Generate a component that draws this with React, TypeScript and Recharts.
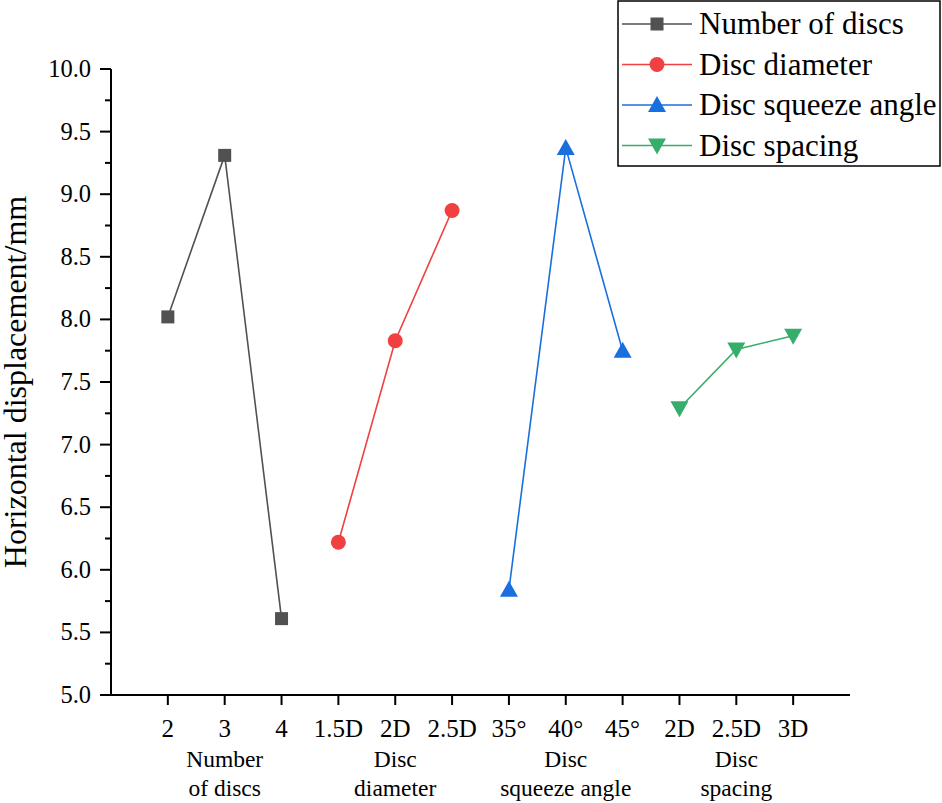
import { Legend, Line, LineChart, XAxis, YAxis } from "recharts";

const categories = ["2", "3", "4", "1.5D", "2D", "2.5D", "35°", "40°", "45°", "2D", "2.5D", "3D"];
const groupTitles = [
  ["Number", "of discs"],
  ["Disc", "diameter"],
  ["Disc", "squeeze angle"],
  ["Disc", "spacing"],
];
const seriesNames = ["Number of discs", "Disc diameter", "Disc squeeze angle", "Disc spacing"];
const seriesColors = ["#515151", "#F14040", "#1A6FDF", "#37AD6B"];

const numberOfDiscs = [8.02, 9.31, 5.61];
const discDiameter = [6.22, 7.83, 8.87];
const squeezeAngle = [5.84, 9.37, 7.75];
const discSpacing = [7.29, 7.76, 7.87];

const yTicks = [5, 5.25, 5.5, 5.75, 6, 6.25, 6.5, 6.75, 7, 7.25, 7.5, 7.75, 8, 8.25, 8.5, 8.75, 9, 9.25, 9.5, 9.75, 10];

const FONT = "Liberation Serif";
const WIDTH = 942;
const HEIGHT = 803;
const PLOT_LEFT = 111;
const PLOT_BOTTOM = 695;

type Shape = "square" | "circle" | "triangle" | "triangleDown";
const shapes: Shape[] = ["square", "circle", "triangle", "triangleDown"];

const seriesValues = [numberOfDiscs, discDiameter, squeezeAngle, discSpacing];

// each group takes three consecutive slots on the x axis (1..12)
const seriesData = seriesValues.map((values, g) =>
  values.map((v, i) => ({ x: g * 3 + i + 1, y: v }))
);

const textStyle = { fontFamily: FONT };

function Marker({ shape, cx, cy, color }: { shape: Shape; cx: number; cy: number; color: string }) {
  if (shape === "square") return <rect x={cx - 6.5} y={cy - 6.5} width={13} height={13} fill={color} />;
  if (shape === "circle") return <circle cx={cx} cy={cy} r={7.5} fill={color} />;
  if (shape === "triangle")
    return <polygon points={`${cx},${cy - 9} ${cx + 9},${cy + 7} ${cx - 9},${cy + 7}`} fill={color} />;
  return <polygon points={`${cx - 9},${cy - 7} ${cx + 9},${cy - 7} ${cx},${cy + 9}`} fill={color} />;
}

function YTick(props: any) {
  const { y, payload } = props;
  const v = payload.value as number;
  const major = Math.abs(v * 2 - Math.round(v * 2)) < 1e-6;
  return (
    <g>
      <line x1={PLOT_LEFT - (major ? 11 : 6)} x2={PLOT_LEFT} y1={y} y2={y} stroke="#000" strokeWidth={2} />
      {major && (
        <text x={PLOT_LEFT - 20} y={y + 8} textAnchor="end" fontSize={24.5} style={textStyle} fill="#000">
          {v.toFixed(1)}
        </text>
      )}
    </g>
  );
}

function XTick(props: any) {
  const { x, payload } = props;
  const idx = (payload.value as number) - 1;
  const label = categories[idx];
  const title = idx % 3 === 1 ? groupTitles[Math.floor(idx / 3)] : null;
  return (
    <g>
      <text x={x} y={PLOT_BOTTOM + 42} textAnchor="middle" fontSize={25} style={textStyle} fill="#000">
        {label}
      </text>
      {title && (
        <text textAnchor="middle" fontSize={23.5} style={textStyle} fill="#000">
          <tspan x={x} y={PLOT_BOTTOM + 72}>
            {title[0]}
          </tspan>
          <tspan x={x} y={PLOT_BOTTOM + 101}>
            {title[1]}
          </tspan>
        </text>
      )}
    </g>
  );
}

function LegendBox() {
  return (
    <svg width={325} height={168} style={{ display: "block" }}>
      <rect x={1} y={1} width={322} height={165} fill="#fff" stroke="#000" strokeWidth={1.5} />
      {seriesNames.map((name, i) => {
        const cy = 24 + i * 40.5;
        return (
          <g key={name}>
            <line x1={5} x2={75} y1={cy} y2={cy} stroke={seriesColors[i]} strokeWidth={1.5} />
            <Marker shape={shapes[i]} cx={40} cy={cy} color={seriesColors[i]} />
            <text x={82} y={cy + 10} fontSize={31} style={textStyle} fill="#000">
              {name}
            </text>
          </g>
        );
      })}
    </svg>
  );
}

export default function App() {
  return (
    <div style={{ position: "absolute", left: 0, top: 0, width: WIDTH, height: HEIGHT, background: "#fff" }}>
      <LineChart width={WIDTH} height={HEIGHT} margin={{ top: 69, right: 92, bottom: 0, left: 31 }}>
        <XAxis
          type="number"
          dataKey="x"
          domain={[0, 13]}
          ticks={[1, 2, 3, 4, 5, 6, 7, 8, 9, 10, 11, 12]}
          interval={0}
          height={108}
          axisLine={{ stroke: "#000", strokeWidth: 2 }}
          tickLine={{ stroke: "#000", strokeWidth: 2 }}
          tickSize={10}
          tick={<XTick />}
          allowDataOverflow
        />
        <YAxis
          type="number"
          domain={[5, 10]}
          ticks={yTicks}
          interval={0}
          width={80}
          axisLine={{ stroke: "#000", strokeWidth: 2 }}
          tickLine={false}
          tick={<YTick />}
          allowDataOverflow
          label={({ viewBox }: any) => (
            <text
              x={26}
              y={viewBox.y + viewBox.height / 2}
              transform={`rotate(-90, 26, ${viewBox.y + viewBox.height / 2})`}
              textAnchor="middle"
              fontSize={32}
              style={textStyle}
              fill="#000"
            >
              Horizontal displacement/mm
            </text>
          )}
        />
        {seriesData.map((data, i) => (
          <Line
            key={seriesNames[i]}
            name={seriesNames[i]}
            data={data}
            dataKey="y"
            stroke={seriesColors[i]}
            strokeWidth={1.6}
            isAnimationActive={false}
            dot={(p: any) => (
              <Marker key={`${i}-${p.index}`} shape={shapes[i]} cx={p.cx} cy={p.cy} color={seriesColors[i]} />
            )}
            activeDot={false}
          />
        ))}
        <Legend
          layout="horizontal"
          align="center"
          verticalAlign="middle"
          width={325}
          height={168}
          wrapperStyle={{ left: 617, top: 0, width: 325, height: 168 }}
          content={() => <LegendBox />}
        />
      </LineChart>
    </div>
  );
}
